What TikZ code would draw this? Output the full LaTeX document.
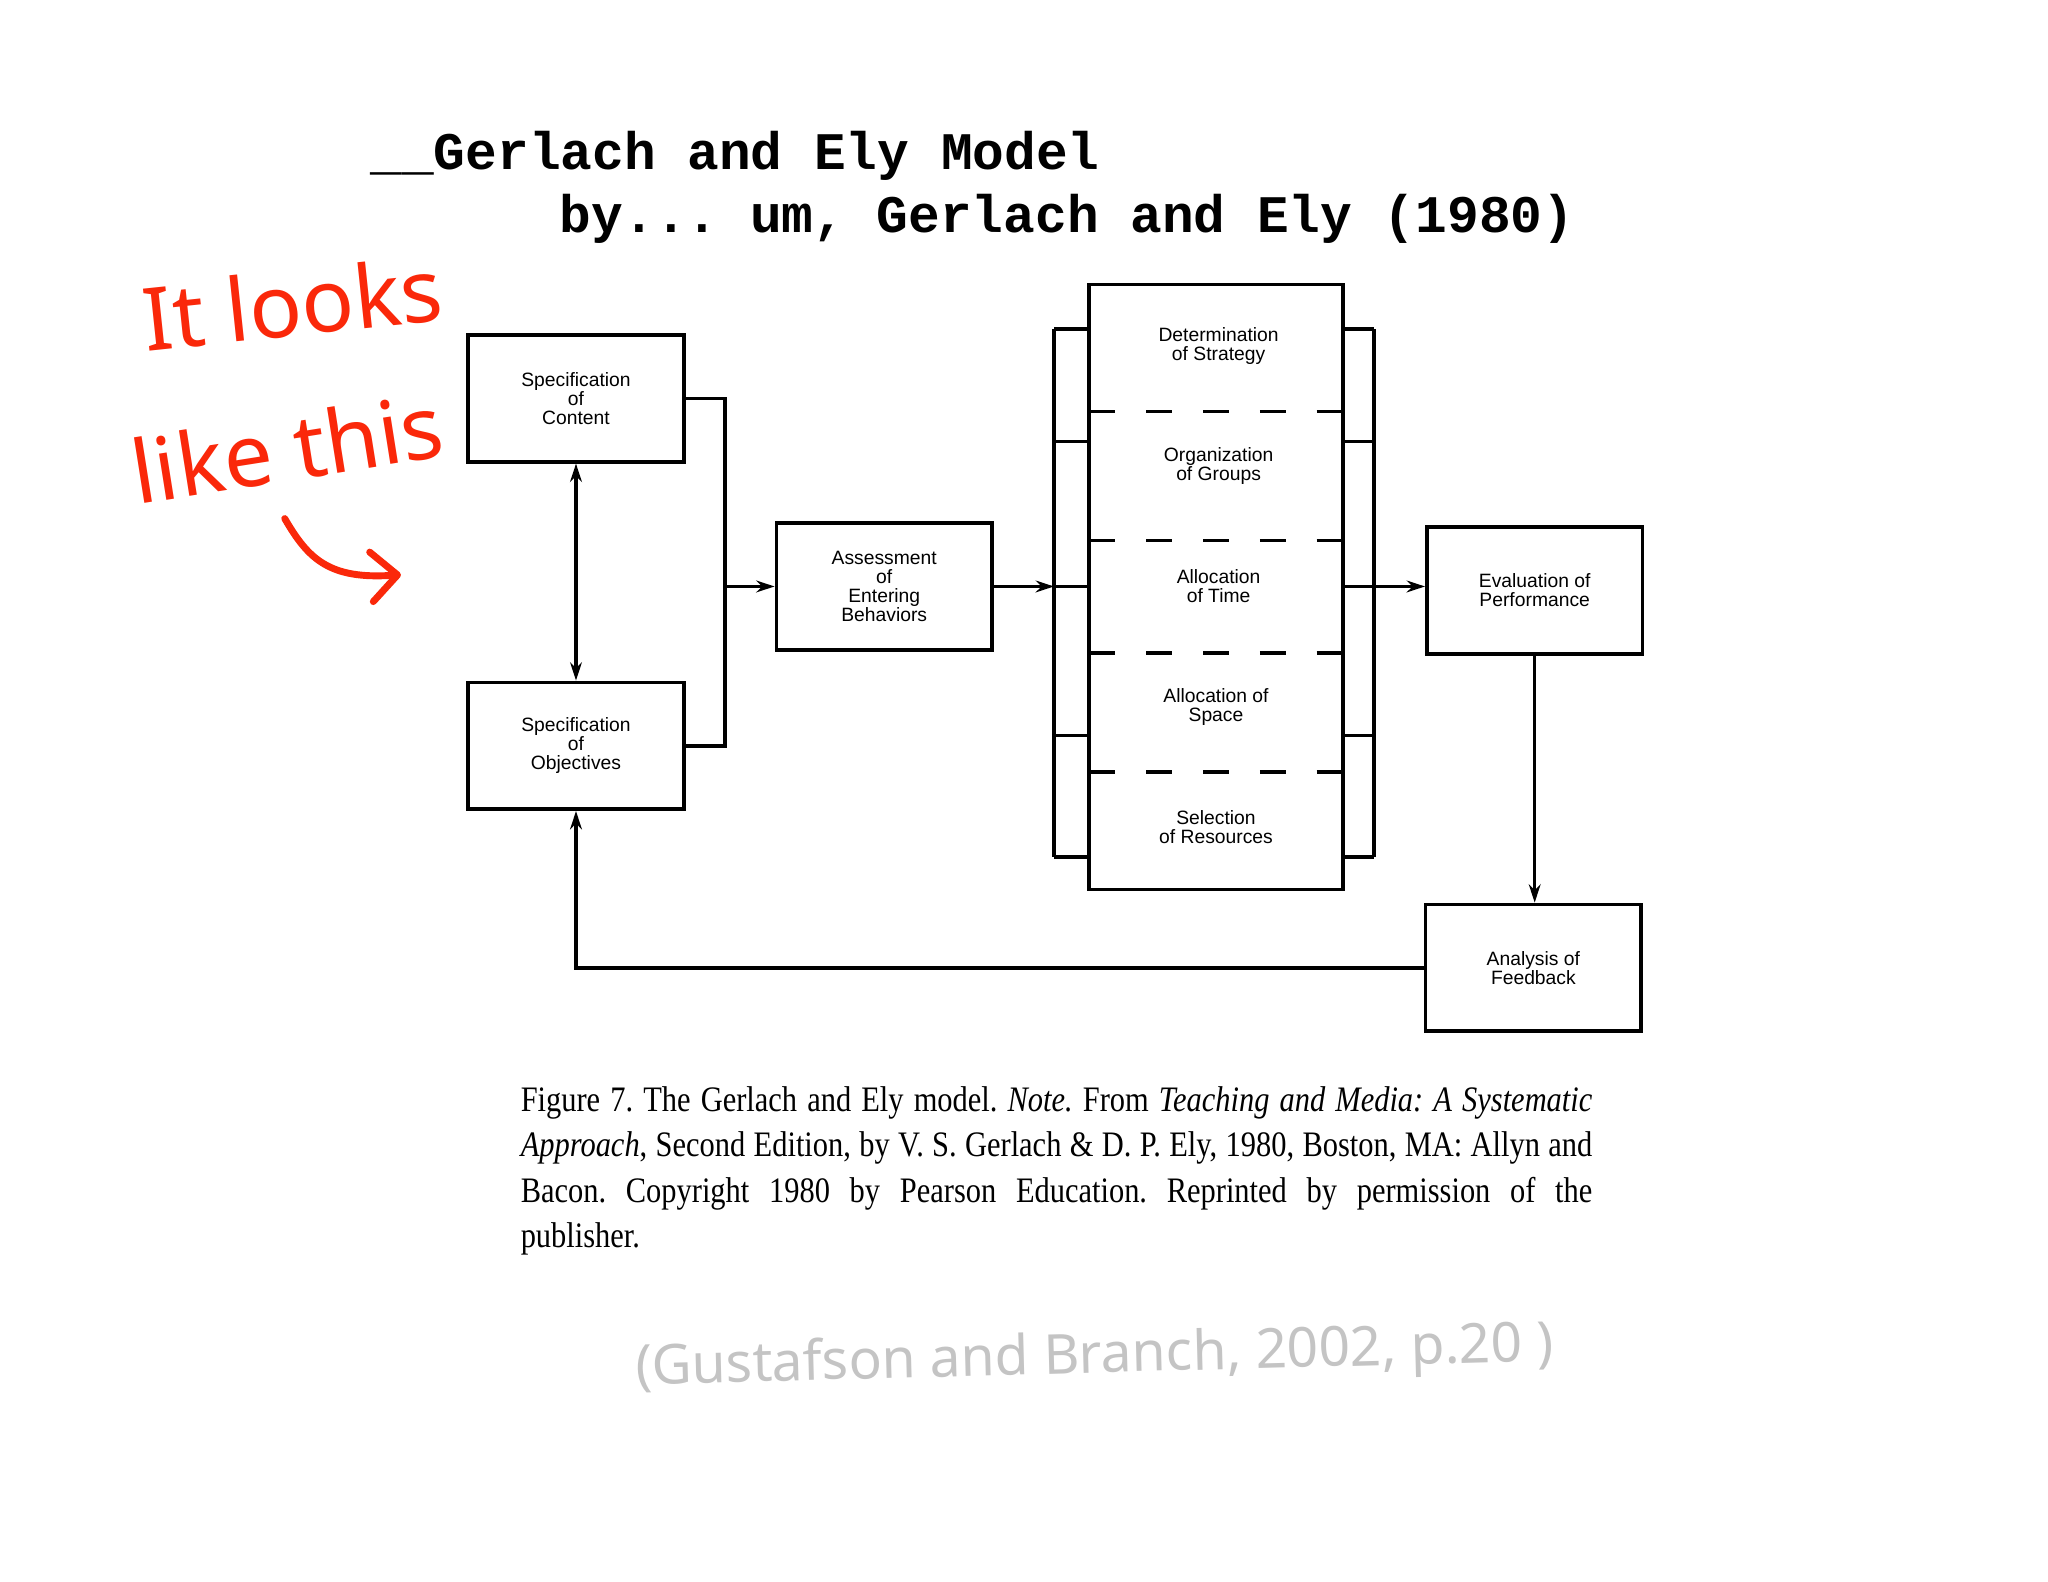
\documentclass[tikz,border=0pt]{standalone}
\usepackage{fontspec}
\setmainfont{Liberation Serif}
\setsansfont{Liberation Sans}
\newfontfamily\monofont{Liberation Mono}
\newfontfamily\capfont{Liberation Serif}[FakeStretch=0.85]
\newfontfamily\handfont{Noto Sans}
\usepackage{tikz}
\usetikzlibrary{arrows.meta}
\definecolor{penred}{RGB}{250,40,10}
\definecolor{pencil}{RGB}{196,196,196}
\frenchspacing
\tikzset{
  blk/.style={draw, line width=0.8pt, minimum width=1.65cm, minimum height=0.97cm, inner sep=0pt,
    align=center, font=\sffamily\fontsize{4.2}{4.1}\selectfont},
  lbl/.style={inner sep=0pt, align=center, font=\sffamily\fontsize{4.2}{4.1}\selectfont},
  ln/.style={line width=0.75pt},
  dividers/.style={line width=0.75pt, dash pattern=on 0.2cm off 0.235cm},
  scrawl/.style={penred, inner sep=0pt, font=\handfont\fontsize{19}{19}\selectfont},
}

\begin{document}
\begin{tikzpicture}[x=0.01cm, y=-0.01cm, >={Stealth[length=0.14cm,width=0.09cm]}]
  \useasboundingbox[fill=white] (0,0) rectangle (1568,1211);
  \node[anchor=base west, inner sep=0pt, font=\monofont\bfseries\fontsize{11.5}{12}\selectfont] (ttl) at (283,130) {\_\_Gerlach and Ely Model};
  \node[anchor=base west, inner sep=0pt, font=\monofont\bfseries\fontsize{11.5}{12}\selectfont] (sub) at (428,178) {by... um, Gerlach and Ely (1980)};
  \node[scrawl, rotate=6] (hand1) at (224,232) {It looks};
  \node[scrawl, rotate=9] (hand2) at (220,343) {like this};
  \draw[penred, line width=1.5pt, line cap=round, -{Straight Barb[length=0.2cm,width=0.38cm,round]}]
    (218,397) .. controls (236,428) and (252,444) .. (307,440);

  \node[blk] (cont) at (441,305) {Specification\\of\\Content};
  \node[blk] (obj) at (441,571) {Specification\\of\\Objectives};
  \node[blk] (assess) at (677,449) {Assessment\\of\\Entering\\Behaviors};
  \node[blk, minimum width=1.94cm, minimum height=4.63cm] (plan) at (931,449.5) {};
  \node[blk] (eval) at (1175,452) {Evaluation of\\Performance};
  \node[blk] (anal) at (1174,741) {Analysis of\\Feedback};

  \node[lbl] (strat) at (933,265) {Determination\\of Strategy};
  \node[lbl] (grp) at (933,357) {Organization\\of Groups};
  \node[lbl] (time) at (933,449) {Allocation\\of Time};
  \node[lbl] (space) at (931,541) {Allocation of\\Space};
  \node[lbl] (res) at (931,633) {Selection\\of Resources};
  \foreach \y in {315,414,500,591} { \draw[dividers] (834,\y) -- (1028,\y); }

  \draw[ln] (807,252) -- (807,656);
  \draw[ln] (1052,252) -- (1052,656);
  \foreach \y in {252,338,449,563,656} { \draw[ln] (807,\y) -- (834,\y); \draw[ln] (1028,\y) -- (1052,\y); }

  \coordinate (jn) at (555,449);
  \coordinate (lbr) at (807,449);
  \coordinate (rbr) at (1052,449);
  \draw[ln,<->] (cont) -- (obj);
  \draw[ln] (cont.east) -| (jn) |- (obj.east);
  \draw[ln,->] (jn) -- (assess.west);
  \draw[ln,->] (assess.east) -- (lbr);
  \draw[ln,->] (rbr) -- (rbr -| eval.west);
  \draw[ln,->] (eval) -- (eval |- anal.north);
  \draw[ln,->] (anal.west) -| (obj.south);

  \node[anchor=north west, inner sep=0pt, text width=8.2cm, align=justify,
    font=\capfont\fontsize{7.8}{9.9}\selectfont] (cap) at (398,831)
    {Figure 7. The Gerlach and Ely model. \textit{Note.} From \textit{Teaching and Media: A Systematic}\linebreak
     \textit{Approach}, Second Edition, by V. S. Gerlach \& D. P. Ely, 1980, Boston, MA: Allyn and\linebreak
     Bacon. Copyright 1980 by Pearson Education. Reprinted by permission of the\linebreak
     publisher.};
  \node[pencil, inner sep=0pt, rotate=1.5, font=\handfont\fontsize{12}{12}\selectfont] (cite) at (838,1040) {(Gustafson and Branch, 2002, p.20 )};
\end{tikzpicture}
\end{document}
